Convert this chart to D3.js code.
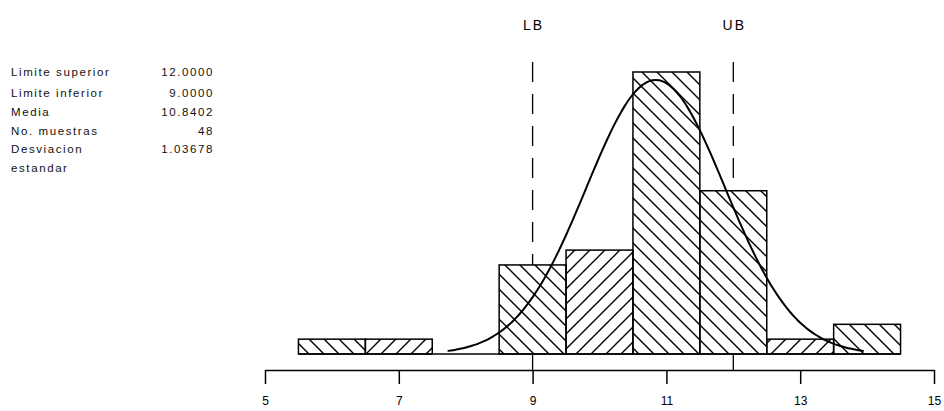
<!DOCTYPE html>
<html>
<head>
<meta charset="utf-8">
<script src="https://cdn.jsdelivr.net/npm/d3@7"></script>
<style>
  html, body { margin: 0; padding: 0; background: #fff; }
  svg { display: block; font-family: "Liberation Sans", Arial, sans-serif; }
</style>
</head>
<body>
<svg id="chart" width="944" height="411"></svg>
<script>
// Histogram bins (class centres, width 1) and their counts
const binCenters = [6, 7, 9, 10, 11, 12, 13, 14];
const binCounts  = [1, 1, 6, 7, 19, 11, 1, 2];
const binWidth = 1;

// Summary statistics shown in the side panel
const statLabels = ["Limite superior", "Limite inferior", "Media", "No. muestras", "Desviacion"];
const statValues = ["12.0000", "9.0000", "10.8402", "48", "1.03678"];

// Specification limits
const lowerLimit = 9.0;
const upperLimit = 12.0;
const sampleMean = 10.8402;
const sampleSD = 1.03678;
const sampleSize = 48;

// Axis ticks
const xTicks = [5, 7, 9, 11, 13, 15];

const svg = d3.select("#chart");

const x = d3.scaleLinear().domain([5, 15]).range([265, 934]);
const y = d3.scaleLinear().domain([0, 19]).range([354, 72]);

// Hatch patterns: "back" = \ , "fwd" = /
const defs = svg.append("defs");
const P = 15;
defs.append("pattern")
  .attr("id", "hatch-back").attr("patternUnits", "userSpaceOnUse")
  .attr("width", P).attr("height", P)
  .append("path")
  .attr("d", `M0,0 L${P},${P} M${-P/4},${3*P/4} L${P/4},${5*P/4} M${3*P/4},${-P/4} L${5*P/4},${P/4}`)
  .attr("stroke", "#000").attr("stroke-width", 1.4);
defs.append("pattern")
  .attr("id", "hatch-fwd").attr("patternUnits", "userSpaceOnUse")
  .attr("width", P).attr("height", P)
  .append("path")
  .attr("d", `M0,${P} L${P},0 M${-P/4},${P/4} L${P/4},${-P/4} M${3*P/4},${5*P/4} L${5*P/4},${3*P/4}`)
  .attr("stroke", "#000").attr("stroke-width", 1.4);

const hatchOf = ["back", "fwd", "back", "fwd", "back", "back", "fwd", "back"];

// Side panel of statistics
const panel = svg.append("g").attr("font-size", 11.5).attr("letter-spacing", 1.6).attr("fill", "#111");
const rowY = [76, 97, 116, 135, 153];
statLabels.forEach((t, i) => {
  panel.append("text").attr("x", 11).attr("y", rowY[i]).text(t);
  panel.append("text").attr("x", 214).attr("y", rowY[i]).attr("text-anchor", "end").text(statValues[i]);
});
panel.append("text").attr("x", 11).attr("y", 172).text("estandar");

// Limit lines (drawn beneath the bars)
const limits = [{ v: lowerLimit, label: "LB" }, { v: upperLimit, label: "UB" }];
svg.append("g").selectAll("line").data(limits).join("line")
  .attr("x1", d => x(d.v)).attr("x2", d => x(d.v))
  .attr("y1", 62).attr("y2", 370)
  .attr("stroke", "#000").attr("stroke-width", 1.3)
  .attr("stroke-dasharray", "20,12");
svg.append("g").selectAll("text").data(limits).join("text")
  .attr("x", d => x(d.v) + 1).attr("y", 30)
  .attr("text-anchor", "middle")
  .attr("font-size", 14).attr("letter-spacing", 2)
  .text(d => d.label);

// Bars
const bins = binCenters.map((c, i) => ({ c, n: binCounts[i], h: hatchOf[i] }));
const bars = svg.append("g");
bars.selectAll("rect.bg").data(bins).join("rect")
  .attr("class", "bg")
  .attr("x", d => x(d.c - binWidth / 2)).attr("width", d => x(d.c + binWidth / 2) - x(d.c - binWidth / 2))
  .attr("y", d => y(d.n)).attr("height", d => y(0) - y(d.n))
  .attr("fill", "#fff");
bars.selectAll("rect.fg").data(bins).join("rect")
  .attr("class", "fg")
  .attr("x", d => x(d.c - binWidth / 2)).attr("width", d => x(d.c + binWidth / 2) - x(d.c - binWidth / 2))
  .attr("y", d => y(d.n)).attr("height", d => y(0) - y(d.n))
  .attr("fill", d => `url(#hatch-${d.h})`)
  .attr("stroke", "#000").attr("stroke-width", 1.5);

// Baseline under the bars
svg.append("line")
  .attr("x1", x(binCenters[0] - binWidth / 2)).attr("x2", x(binCenters[binCenters.length - 1] + binWidth / 2))
  .attr("y1", y(0)).attr("y2", y(0))
  .attr("stroke", "#000").attr("stroke-width", 1.5);

// Fitted normal curve, scaled to counts, over mean ± 3 SD
const pdf = v => Math.exp(-0.5 * ((v - sampleMean) / sampleSD) ** 2) / (sampleSD * Math.sqrt(2 * Math.PI));
const curvePts = d3.range(0, 121).map(k => {
  const v = sampleMean - 3 * sampleSD + k * (6 * sampleSD / 120);
  return [v, sampleSize * binWidth * pdf(v)];
});
svg.append("path")
  .datum(curvePts)
  .attr("d", d3.line().x(d => x(d[0])).y(d => y(d[1])).curve(d3.curveBasis))
  .attr("fill", "none").attr("stroke", "#000").attr("stroke-width", 2);

// X axis
const axis = svg.append("g")
  .attr("transform", "translate(0,370)")
  .call(d3.axisBottom(x).tickValues(xTicks).tickSize(14).tickSizeOuter(0).tickPadding(12).tickFormat(d3.format("d")));
axis.select(".domain").attr("stroke-width", 1.5);
axis.selectAll(".tick line").attr("stroke-width", 1.5);
axis.selectAll(".tick text").attr("font-size", 12).attr("font-family", "Liberation Sans, Arial, sans-serif").attr("fill", "#000");
</script>
</body>
</html>
